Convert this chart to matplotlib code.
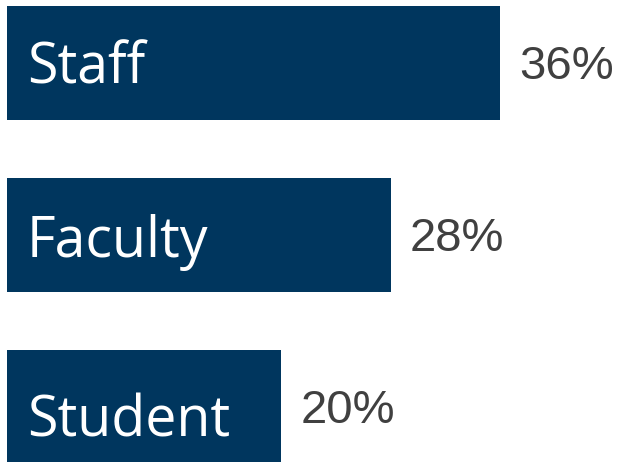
import matplotlib.pyplot as plt

groups = ['Staff', 'Faculty', 'Student']
shares = [36, 28, 20]

bar_color = '#00365e'

fig = plt.figure(figsize=(6.18, 4.62), dpi=100)
ax = fig.add_axes([0, 0, 1, 1])

ypos = range(len(groups))
ax.barh(ypos, shares, height=0.663, color=bar_color)

# the names sit a little lower in each successive bar
name_shift = [0.035, 0.045, 0.085]

for y, name, val, dy in zip(ypos, groups, shares, name_shift):
    # group name inside the bar, value just past its end
    ax.text(1.46, y + dy, name, color='white', fontsize=40,
            family='Open Sans', va='center', ha='left')
    ax.text(val + 1.4, y + 0.025, f'{val}%', color='#404040', fontsize=34,
            family='Liberation Sans', va='center', ha='left')

ax.set_xlim(-0.51, 44.6)
ax.set_ylim(2.32, -0.366)
ax.axis('off')

fig.savefig('out.png', dpi=100)
